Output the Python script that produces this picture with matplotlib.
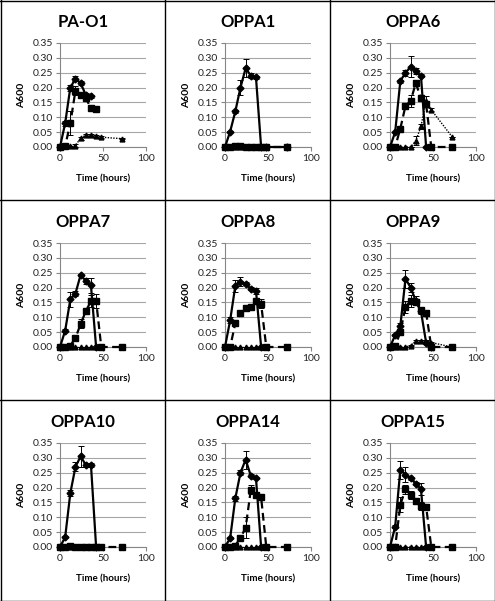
import numpy as np
import matplotlib
matplotlib.use("Agg")
import matplotlib.pyplot as plt
from matplotlib.lines import Line2D

plt.rcParams['font.family'] = ['Lato', 'DejaVu Sans']

nan = np.nan
times = [0, 6, 12, 18, 24, 30, 36, 42, 48, 72]
names = ["PA-O1", "OPPA1", "OPPA6", "OPPA7", "OPPA8", "OPPA9", "OPPA10", "OPPA14", "OPPA15"]

# solid line series (diamonds)
solid_pa01 = [0, 0.08, 0.20, 0.23, 0.215, 0.175, 0.17, nan, nan, nan]
solid_oppa1 = [0, 0.052, 0.12, 0.20, 0.265, 0.24, 0.235, 0, 0, 0]
solid_oppa6 = [0, 0.05, 0.222, 0.25, 0.27, 0.255, 0.24, 0, nan, nan]
solid_oppa7 = [0, 0.055, 0.16, 0.18, 0.243, 0.222, 0.207, 0, nan, nan]
solid_oppa8 = [0, 0.09, 0.206, 0.22, 0.213, 0.196, 0.19, 0, nan, nan]
solid_oppa9 = [0, 0.04, 0.07, 0.23, 0.20, 0.155, 0.12, 0.015, 0, nan]
solid_oppa10 = [0, 0.033, 0.181, 0.27, 0.305, 0.276, 0.276, 0, nan, nan]
solid_oppa14 = [0, 0.03, 0.164, 0.25, 0.294, 0.24, 0.232, 0, nan, nan]
solid_oppa15 = [0, 0.068, 0.26, 0.243, 0.232, 0.213, 0.195, 0, nan, nan]

err_solid_pa01 = [0, 0.008, 0.01, 0.008, 0.008, 0.008, 0.005, 0, 0, 0]
err_solid_oppa1 = [0, 0.003, 0.005, 0.025, 0.03, 0.008, 0.005, 0, 0, 0]
err_solid_oppa6 = [0, 0, 0.005, 0.01, 0.035, 0.01, 0.005, 0, 0, 0]
err_solid_oppa7 = [0, 0.005, 0.025, 0.008, 0.003, 0.01, 0.025, 0, 0, 0]
err_solid_oppa8 = [0, 0.01, 0.02, 0.015, 0.005, 0.005, 0.01, 0, 0, 0]
err_solid_oppa9 = [0, 0.003, 0.01, 0.03, 0.015, 0.015, 0.01, 0.005, 0, 0]
err_solid_oppa10 = [0, 0.003, 0.01, 0.015, 0.035, 0.008, 0.008, 0, 0, 0]
err_solid_oppa14 = [0, 0.003, 0.008, 0.008, 0.03, 0.005, 0.003, 0, 0, 0]
err_solid_oppa15 = [0, 0.005, 0.03, 0.025, 0.005, 0.005, 0.02, 0, 0, 0]

# dashed line series (squares)
dash_pa01 = [0, 0.003, 0.08, 0.19, 0.175, 0.165, 0.13, 0.127, nan, nan]
dash_oppa1 = [0, 0, 0.005, 0.005, 0, 0, 0, 0, 0, 0]
dash_oppa6 = [0, 0, 0.062, 0.138, 0.155, 0.215, 0.164, 0.144, 0, 0]
dash_oppa7 = [0, 0, 0.005, 0.03, 0.078, 0.12, 0.155, 0.155, 0, 0]
dash_oppa8 = [0, 0, 0.08, 0.114, 0.13, 0.134, 0.155, 0.145, 0, 0]
dash_oppa9 = [0, 0.003, 0.05, 0.135, 0.155, 0.15, 0.125, 0.115, 0, 0]
dash_oppa10 = [0, 0, 0.005, 0, 0, 0, 0, 0, 0, 0]
dash_oppa14 = [0, 0, 0.005, 0.031, 0.065, 0.192, 0.175, 0.167, 0, 0]
dash_oppa15 = [0, 0, 0.142, 0.195, 0.175, 0.155, 0.138, 0.136, 0, 0]

err_dash_pa01 = [0, 0, 0.04, 0.015, 0.01, 0.01, 0.005, 0.005, 0, 0]
err_dash_oppa1 = [0, 0, 0, 0, 0, 0, 0, 0, 0, 0]
err_dash_oppa6 = [0, 0, 0.005, 0.01, 0.02, 0.01, 0.01, 0.01, 0, 0]
err_dash_oppa7 = [0, 0, 0, 0.005, 0.015, 0.01, 0.02, 0.025, 0, 0]
err_dash_oppa8 = [0, 0, 0.01, 0.005, 0.005, 0.005, 0.008, 0.015, 0, 0]
err_dash_oppa9 = [0, 0, 0.01, 0.02, 0.02, 0.01, 0.005, 0.01, 0, 0]
err_dash_oppa10 = [0, 0, 0, 0, 0, 0, 0, 0, 0, 0]
err_dash_oppa14 = [0, 0, 0, 0.005, 0.035, 0.015, 0.01, 0.005, 0, 0]
err_dash_oppa15 = [0, 0, 0.025, 0.015, 0.015, 0.01, 0.015, 0.01, 0, 0]

# dotted line series (triangles)
dot_pa01 = [0, 0.003, 0.002, 0.005, 0.03, 0.04, 0.04, 0.037, 0.033, 0.028]
dot_oppa1 = [0, 0, 0, 0, 0, 0, 0, 0, nan, nan]
dot_oppa6 = [0, 0, 0, 0, 0, 0.021, 0.069, 0.156, 0.125, 0.035]
dot_oppa7 = [0, 0, 0, 0, 0, 0, 0, 0, nan, nan]
dot_oppa8 = [0, 0, 0, 0, 0, 0, 0, 0, nan, nan]
dot_oppa9 = [0, 0, 0, 0, 0.005, 0.02, 0.02, 0.018, 0.015, 0.0]
dot_oppa10 = [0, 0, 0, 0, 0, 0, 0, 0, nan, nan]
dot_oppa14 = [0, 0, 0, 0, 0, 0, 0, 0, nan, nan]
dot_oppa15 = [0, 0.005, 0, 0, 0, 0, 0, 0, nan, nan]

err_dot_pa01 = [0, 0, 0, 0.005, 0.005, 0.003, 0.003, 0.003, 0.003, 0.002]
err_dot_oppa6 = [0, 0, 0, 0, 0, 0.015, 0.01, 0.015, 0.005, 0]
err_dot_oppa9 = [0, 0, 0, 0, 0.003, 0.003, 0.003, 0.005, 0.003, 0]
zero_err = [0] * 10

solids = [solid_pa01, solid_oppa1, solid_oppa6, solid_oppa7, solid_oppa8,
          solid_oppa9, solid_oppa10, solid_oppa14, solid_oppa15]
solid_errs = [err_solid_pa01, err_solid_oppa1, err_solid_oppa6, err_solid_oppa7, err_solid_oppa8,
              err_solid_oppa9, err_solid_oppa10, err_solid_oppa14, err_solid_oppa15]
dashes = [dash_pa01, dash_oppa1, dash_oppa6, dash_oppa7, dash_oppa8,
          dash_oppa9, dash_oppa10, dash_oppa14, dash_oppa15]
dash_errs = [err_dash_pa01, err_dash_oppa1, err_dash_oppa6, err_dash_oppa7, err_dash_oppa8,
             err_dash_oppa9, err_dash_oppa10, err_dash_oppa14, err_dash_oppa15]
dots = [dot_pa01, dot_oppa1, dot_oppa6, dot_oppa7, dot_oppa8,
        dot_oppa9, dot_oppa10, dot_oppa14, dot_oppa15]
dot_errs = [err_dot_pa01, zero_err, err_dot_oppa6, zero_err, zero_err,
            err_dot_oppa9, zero_err, zero_err, zero_err]

W, H = 495, 601
fig = plt.figure(figsize=(W / 100, H / 100), dpi=100)

grid_col = '#a6a6a6'
eb = dict(color='black', capsize=2, elinewidth=0.7, capthick=0.7, clip_on=False)
for i in range(9):
    row, col = divmod(i, 3)
    x0 = col * 165
    y0 = row * 200
    ax = fig.add_axes([(x0 + 60) / W, 1 - (y0 + 147) / H, 86 / W, 104 / H])

    ax.errorbar(times, dots[i], yerr=dot_errs[i], lw=1, ls=(0, (1, 1)),
                marker='^', ms=3.5, zorder=3, **eb)
    ax.errorbar(times, dashes[i], yerr=dash_errs[i], lw=1.6, ls=(0, (3.5, 2)),
                marker='s', ms=4, zorder=4, **eb)
    ax.errorbar(times, solids[i], yerr=solid_errs[i], lw=1.6, ls='-',
                marker='D', ms=3.5, zorder=5, **eb)

    ax.set_xlim(0, 100)
    ax.set_ylim(0, 0.35)
    ax.set_xticks([0, 50, 100])
    ax.set_yticks(np.arange(0, 0.351, 0.05))
    ax.set_yticklabels(['%.2f' % v for v in np.arange(0, 0.351, 0.05)])
    ax.yaxis.grid(True, color=grid_col, lw=0.8)
    ax.set_axisbelow(True)
    for s in ['top', 'right']:
        ax.spines[s].set_visible(False)
    for s in ['left', 'bottom']:
        ax.spines[s].set_color('#868686')
        ax.spines[s].set_linewidth(0.8)
    ax.tick_params(labelsize=7.5, length=3, width=0.8, color='#868686', pad=2, labelcolor='#222222')
    ax.set_ylabel('A600', fontsize=7.5, fontweight='bold', labelpad=5)
    ax.set_xlabel('Time (hours)', fontsize=7, fontweight='bold', labelpad=8)

    fig.text((x0 + 83) / W, 1 - (y0 + 22) / H, names[i], fontsize=12, fontweight='bold',
             ha='center', va='center')

# panel borders
for xv in [0.5, 165, 330, 494.5]:
    fig.add_artist(Line2D([xv / W, xv / W], [0, 1], color='black', lw=1))
for yv in [0.5, 200, 400, 600.5]:
    fig.add_artist(Line2D([0, 1], [1 - yv / H, 1 - yv / H], color='black', lw=1))

fig.savefig('out.png', dpi=100)
